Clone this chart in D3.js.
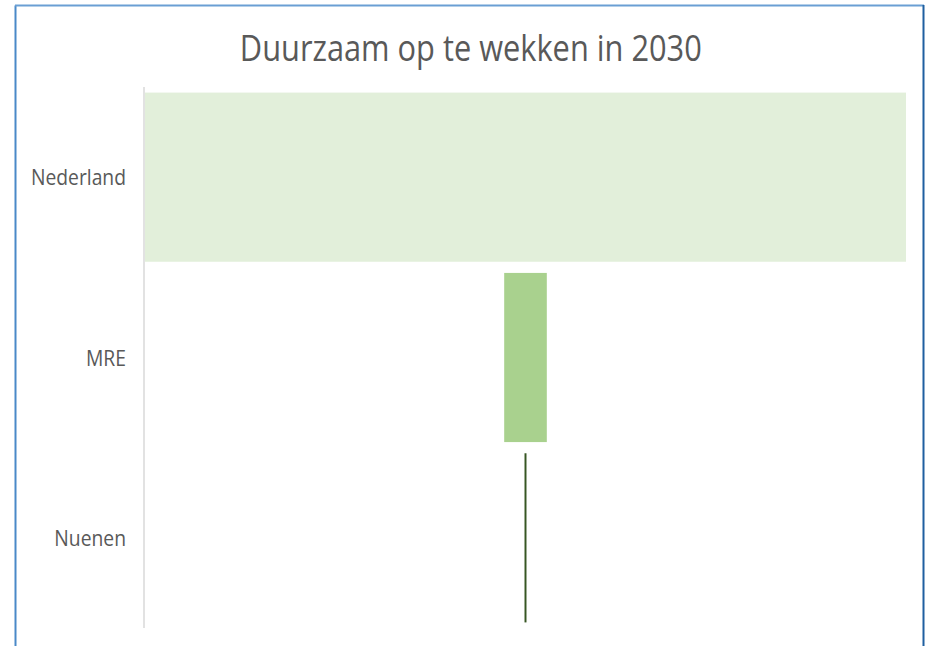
<!DOCTYPE html>
<html>
<head>
<meta charset="utf-8">
<script src="https://cdn.jsdelivr.net/npm/d3@7"></script>
<style>
  html, body { margin: 0; padding: 0; background: #fff; }
  svg { display: block; }
  text { font-family: "Open Sans", sans-serif; fill: #595959; }
</style>
</head>
<body>
<svg id="chart" width="928" height="646"></svg>
<script>
// ---- data ----
const title = "Duurzaam op te wekken in 2030";
const categories = ["Nederland", "MRE", "Nuenen"];
const barStart = [0, 47.2, 49.87];
const barEnd = [100, 52.8, 50.13];
const colors = ["#e2efda", "#a9d18e", "#375623"];

const svg = d3.select("#chart");
const W = 928, H = 646;

// frame
svg.append("rect").attr("x", 0).attr("y", 0).attr("width", W).attr("height", H).attr("fill", "#fff");
svg.append("line").attr("x1", 15.5).attr("x2", 15.5).attr("y1", 5.5).attr("y2", H)
  .attr("stroke", "#4a89c8").attr("stroke-width", 2);
svg.append("line").attr("x1", 15).attr("x2", 924).attr("y1", 5.5).attr("y2", 5.5)
  .attr("stroke", "#6a9fd4").attr("stroke-width", 2);
svg.append("line").attr("x1", 923.5).attr("x2", 923.5).attr("y1", 5).attr("y2", H)
  .attr("stroke", "#1f5fa0").attr("stroke-width", 2);

const plot = { left: 145, right: 906, top: 87, bottom: 628 };

const x = d3.scaleLinear().domain([0, 100]).range([plot.left, plot.right]);
const y = d3.scaleBand().domain(categories).range([plot.top, plot.bottom])
  .paddingInner(0.062).paddingOuter(0.031);

// title
const t = svg.append("text").attr("transform", "translate(470.8,61) scale(1,1.18)")
  .attr("text-anchor", "middle").style("font-size", "30px").text(title);
const tw = t.node().getComputedTextLength();
t.style("font-size", (30 * 462 / tw).toFixed(2) + "px");

// bars
svg.append("g").selectAll("rect").data(categories).join("rect")
  .attr("x", (d, i) => x(barStart[i]))
  .attr("width", (d, i) => x(barEnd[i]) - x(barStart[i]))
  .attr("y", d => y(d))
  .attr("height", y.bandwidth())
  .attr("fill", (d, i) => colors[i]);

// y axis
const yAxis = svg.append("g").attr("transform", `translate(${plot.left - 1},0)`)
  .call(d3.axisLeft(y).tickSize(0).tickPadding(18));
yAxis.select(".domain").attr("stroke", "#d9d9d9").attr("stroke-width", 1.5)
  .attr("d", `M0,${plot.top}V${plot.bottom}`);
yAxis.selectAll(".tick text")
  .style("font-size", "19.3px").style("font-family", "'Open Sans', sans-serif")
  .attr("fill", "#595959")
  .attr("dy", null)
  .attr("y", 0)
  .attr("transform", "translate(0,8) scale(1,1.14)");
</script>
</body>
</html>
